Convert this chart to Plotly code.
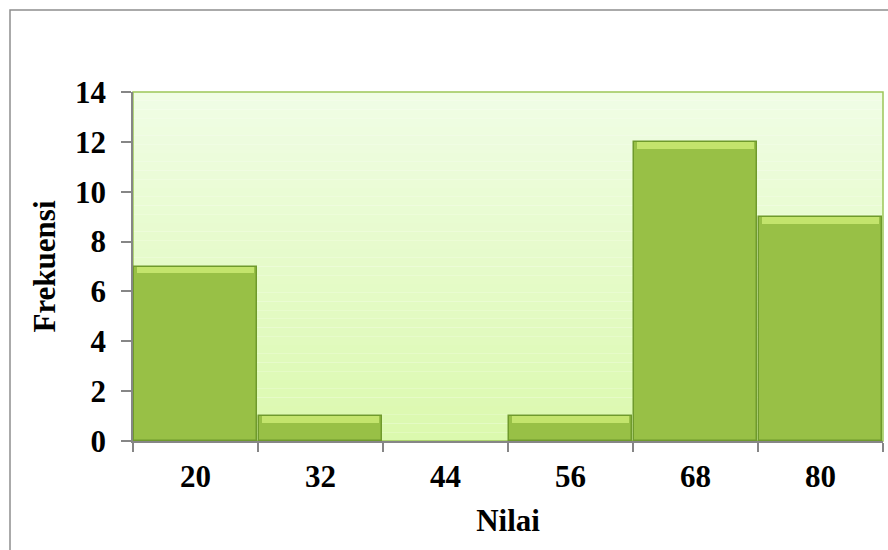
import plotly.graph_objects as go

categories = ["20", "32", "44", "56", "68", "80"]
frequencies = [7, 1, 0, 1, 12, 9]
y_ticks = [0, 2, 4, 6, 8, 10, 12, 14]

FONT = "Times New Roman, Liberation Serif, serif"
FS = 31
W, H = 888, 550
ML, MR, MT, MB = 133, 5, 92, 109
PW, PH = W - ML - MR, H - MT - MB

fig = go.Figure()

# main bars
fig.add_trace(go.Bar(
    x=categories, y=frequencies,
    marker=dict(color="#98c046",
                line=dict(color="#6f9a2c", width=[1.5 if v > 0 else 0 for v in frequencies])),
    width=0.985, hoverinfo="x+y",
))
# light bevel on the top of each bar
bevel = 0.28
fig.add_trace(go.Bar(
    x=categories,
    y=[bevel if v > 0 else None for v in frequencies],
    base=[v - bevel if v > 0 else None for v in frequencies],
    marker=dict(color="#c3e46c", line=dict(width=0)),
    width=0.93, hoverinfo="skip",
))

shapes = []
# plot area vertical gradient background
top = (240, 253, 229)
bot = (219, 249, 174)
n = 40
for i in range(n):
    t = i / (n - 1)
    c = tuple(round(top[k] + (bot[k] - top[k]) * t) for k in range(3))
    shapes.append(dict(type="rect", xref="paper", yref="paper",
                       x0=0, x1=1, y0=1 - (i + 1) / n, y1=1 - i / n,
                       fillcolor="rgb(%d,%d,%d)" % c, line=dict(width=0),
                       layer="below"))
# plot area border
shapes.append(dict(type="rect", xref="paper", yref="paper", x0=0, x1=1, y0=0, y1=1,
                   line=dict(color="#9cc658", width=1.5), layer="below"))
# outer chart frame
shapes.append(dict(type="rect", xref="paper", yref="paper",
                   x0=(10 - ML) / PW, x1=(W + 20 - ML) / PW,
                   y0=-(H + 20 - MT - PH) / PH, y1=(MT + PH - 10) / PH,
                   line=dict(color="#8e8e8e", width=1.5)))

fig.update_layout(
    width=W, height=H,
    margin=dict(l=ML, r=MR, t=MT, b=MB),
    paper_bgcolor="white", plot_bgcolor="rgba(0,0,0,0)",
    barmode="overlay", bargap=0,
    showlegend=False,
    shapes=shapes,
    font=dict(family=FONT, size=FS, color="black"),
)
fig.update_xaxes(
    type="category", categoryorder="array", categoryarray=categories,
    tickfont=dict(family=FONT, size=FS, color="black", weight="bold"),
    ticks="outside", tickson="boundaries", ticklen=9, tickwidth=1.5, tickcolor="#868686",
    showline=True, linecolor="#868686", linewidth=2, showgrid=False,
    ticklabelstandoff=7,
    title=dict(text="<b>Nilai</b>", font=dict(family=FONT, size=FS), standoff=16),
)
fig.update_yaxes(
    range=[0, 14], tickvals=y_ticks, ticktext=[str(v) for v in y_ticks],
    tickfont=dict(family=FONT, size=FS, color="black", weight="bold"),
    ticks="outside", tickson="labels", ticklen=10, tickwidth=1.5, tickcolor="#868686",
    showline=True, linecolor="#868686", linewidth=1.5, showgrid=False, zeroline=False,
    ticklabelstandoff=9,
    title=dict(text="<b>Frekuensi</b>", font=dict(family=FONT, size=FS), standoff=10),
)

fig.write_html("out.html")
